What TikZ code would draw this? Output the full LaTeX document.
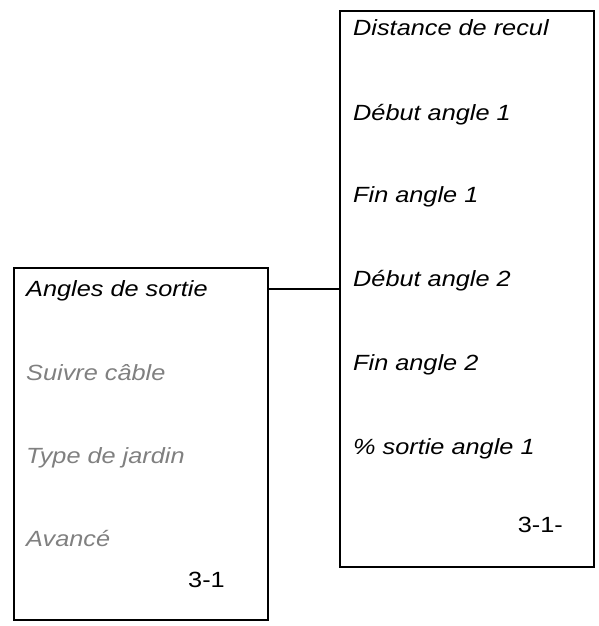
\documentclass[tikz,border=0pt]{standalone}
\usepackage{graphicx}
\usepackage{fontspec}
\setmainfont{Liberation Sans}
\usepackage{xcolor}
\definecolor{menu-grau}{RGB}{128,128,128}
\definecolor{menu-schwarz}{RGB}{0,0,0}
\newcommand{\breit}[1]{\scalebox{1.15}[1]{#1}}
\tikzset{
  menubox/.style={draw=menu-schwarz, line width=1.8pt, inner sep=0pt},
  menuitem/.style={anchor=base west, inner sep=0pt, font=\fontsize{22}{22}\selectfont\itshape},
  menunr/.style={anchor=base east, inner sep=0pt, font=\fontsize{22}{22}\selectfont}
}

\begin{document}
\begin{tikzpicture}[x=1pt,y=-1pt]
    \useasboundingbox (0,0) rectangle (598,626);
    % Untermenue
    \node[menubox, minimum width=254pt, minimum height=556pt, anchor=north west] (sub) at (339,10) {};
    \foreach \t/\y [count=\i] in {Distance de recul/36,D\'ebut angle 1/120,Fin angle 1/202,D\'ebut angle 2/286,Fin angle 2/370,\% sortie angle 1/454}{
      \node[menuitem] (sub\i) at (353,\y) {\breit{\t}};
    }
    \node[menunr] (subnr) at (563,532) {\breit{3-1-}};
    % Hauptmenue
    \node[menubox, minimum width=254pt, minimum height=352pt, anchor=north west] (main) at (13,267) {};
    \node[menuitem] (main1) at (26,296) {\breit{Angles de sortie}};
    \node[menuitem, color=menu-grau] (main2) at (26,380) {\breit{Suivre c\^able}};
    \node[menuitem, color=menu-grau] (main3) at (26,463) {\breit{Type de jardin}};
    \node[menuitem, color=menu-grau] (main4) at (26,546) {\breit{Avanc\'e}};
    \node[menunr] (mainnr) at (225,587) {\breit{3-1}};
    % Verbindung
    \coordinate (knick) at (0,289);
    \draw[line width=1.5pt] (main.east |- knick) -- (sub.west |- knick);
  \end{tikzpicture}
\end{document}
